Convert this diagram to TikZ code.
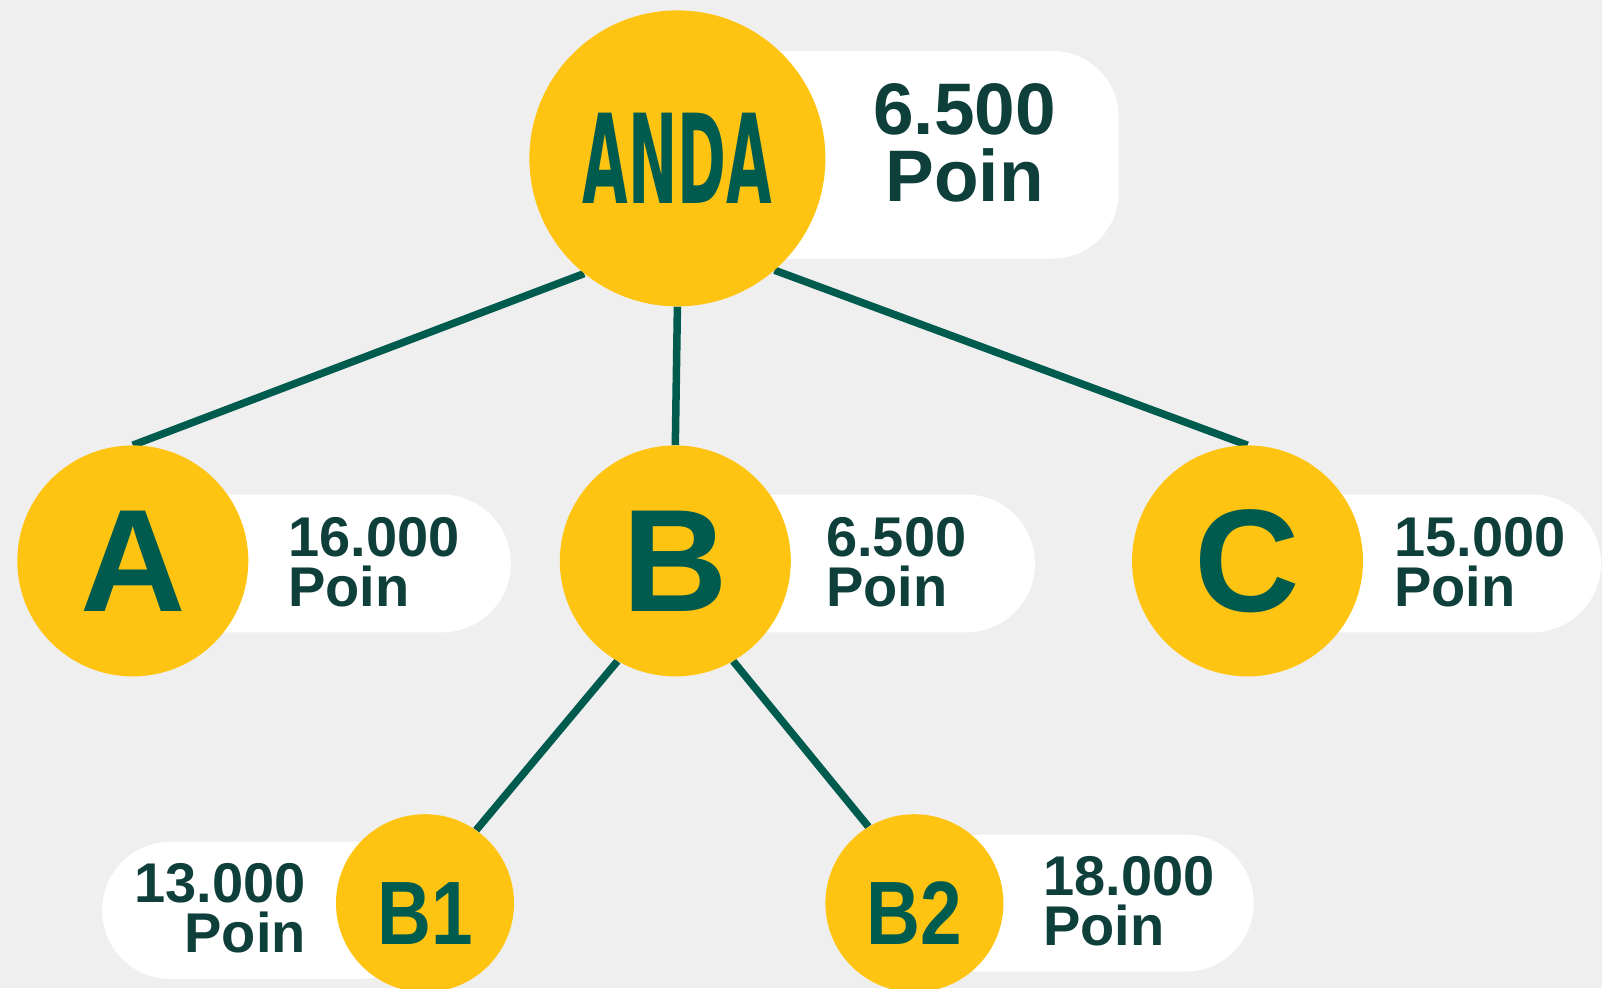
\documentclass[tikz,border=0pt]{standalone}
\usepackage{fontspec}
\usepackage{graphicx}
\setmainfont{Liberation Sans}
\newfontfamily\andafont{DejaVu Sans}
\usetikzlibrary{backgrounds}
\definecolor{bgcol}{HTML}{EFEFEF}
\definecolor{gold}{HTML}{FFC412}
\definecolor{mygreen}{HTML}{005B4F}
\definecolor{numcol}{HTML}{0F3F3B}
\begin{document}
\begin{tikzpicture}[x=1pt,y=-1pt,
  disc/.style={circle,fill=gold,inner sep=0pt,text=mygreen,font=\bfseries\fontsize{146}{146}\selectfont},
  smalldisc/.style={circle,fill=gold,inner sep=0pt,minimum size=178pt},
  smallletters/.style={inner sep=0pt,text=mygreen,font=\bfseries\fontsize{90}{90}\selectfont},
  pill/.style={fill=white},
  num/.style={text=numcol,inner sep=0pt,font=\bfseries\fontsize{56}{50}\selectfont},
  bignum/.style={text=numcol,inner sep=0pt,font=\bfseries\fontsize{73}{66.4}\selectfont},
  link/.style={draw=mygreen,line width=7.5pt}]

\useasboundingbox (0,0) rectangle (1602,988);

% value boxes
\fill[pill,rounded corners=66pt] (690,51.1) rectangle (1118.7,258.5);
\fill[pill,rounded corners=69pt] (150,494.5) rectangle (510.8,632.4);
\fill[pill,rounded corners=69pt] (700,494.5) rectangle (1035,632.4);
\fill[pill,rounded corners=69pt] (1250,494.5) rectangle (1601,632.4);
\fill[pill,rounded corners=68pt] (102.2,841.9) rectangle (430,978.8);
\fill[pill,rounded corners=68pt] (910,834.7) rectangle (1253.6,971.6);

% circles
\node[disc,minimum size=296pt] (anda) at (677.4,158.4)
  {\andafont\fontsize{124}{124}\selectfont\scalebox{0.475}[1]{ANDA}};
\node[disc,minimum size=231pt] (a) at (132.8,560.9) {A};
\node[disc,minimum size=231pt] (b) at (675.3,560.9) {B};
\node[disc,minimum size=231pt] (c) at (1247.5,560.9) {C};
\node[smalldisc] (b1) at (425,903.2) {};
\node[smalldisc] (b2) at (914.4,903.2) {};
\node[smallletters] (b1t) at ([yshift=-10pt]b1.center) {\scalebox{0.83}[1]{B1}};
\node[smallletters] (b2t) at ([yshift=-10pt]b2.center) {\scalebox{0.83}[1]{B2}};

% values
\node[bignum,align=center,anchor=north] (vanda) at (964.5,83.8) {6.500\\Poin};
\node[num,align=left,anchor=north west] (va) at (288,517) {16.000\\Poin};
\node[num,align=left,anchor=north west] (vb) at (826,517) {6.500\\Poin};
\node[num,align=left,anchor=north west] (vc) at (1394,517) {15.000\\Poin};
\node[num,align=right,anchor=north east] (vb1) at (306,863.5) {13.000\\Poin};
\node[num,align=left,anchor=north west] (vb2) at (1043,856.5) {18.000\\Poin};

\begin{pgfonlayer}{background}
\fill[bgcol] (0,0) rectangle (1602,988);
\draw[link] (anda.231.4) -- (a.north);
\draw[link] (anda.south) -- (b.north);
\draw[link] (anda.311.9) -- (c.north);
\draw[link] (b.240.4) -- (b1.55.4);
\draw[link] (b.300.4) -- (b2.121.4);
\end{pgfonlayer}
\end{tikzpicture}
\end{document}
